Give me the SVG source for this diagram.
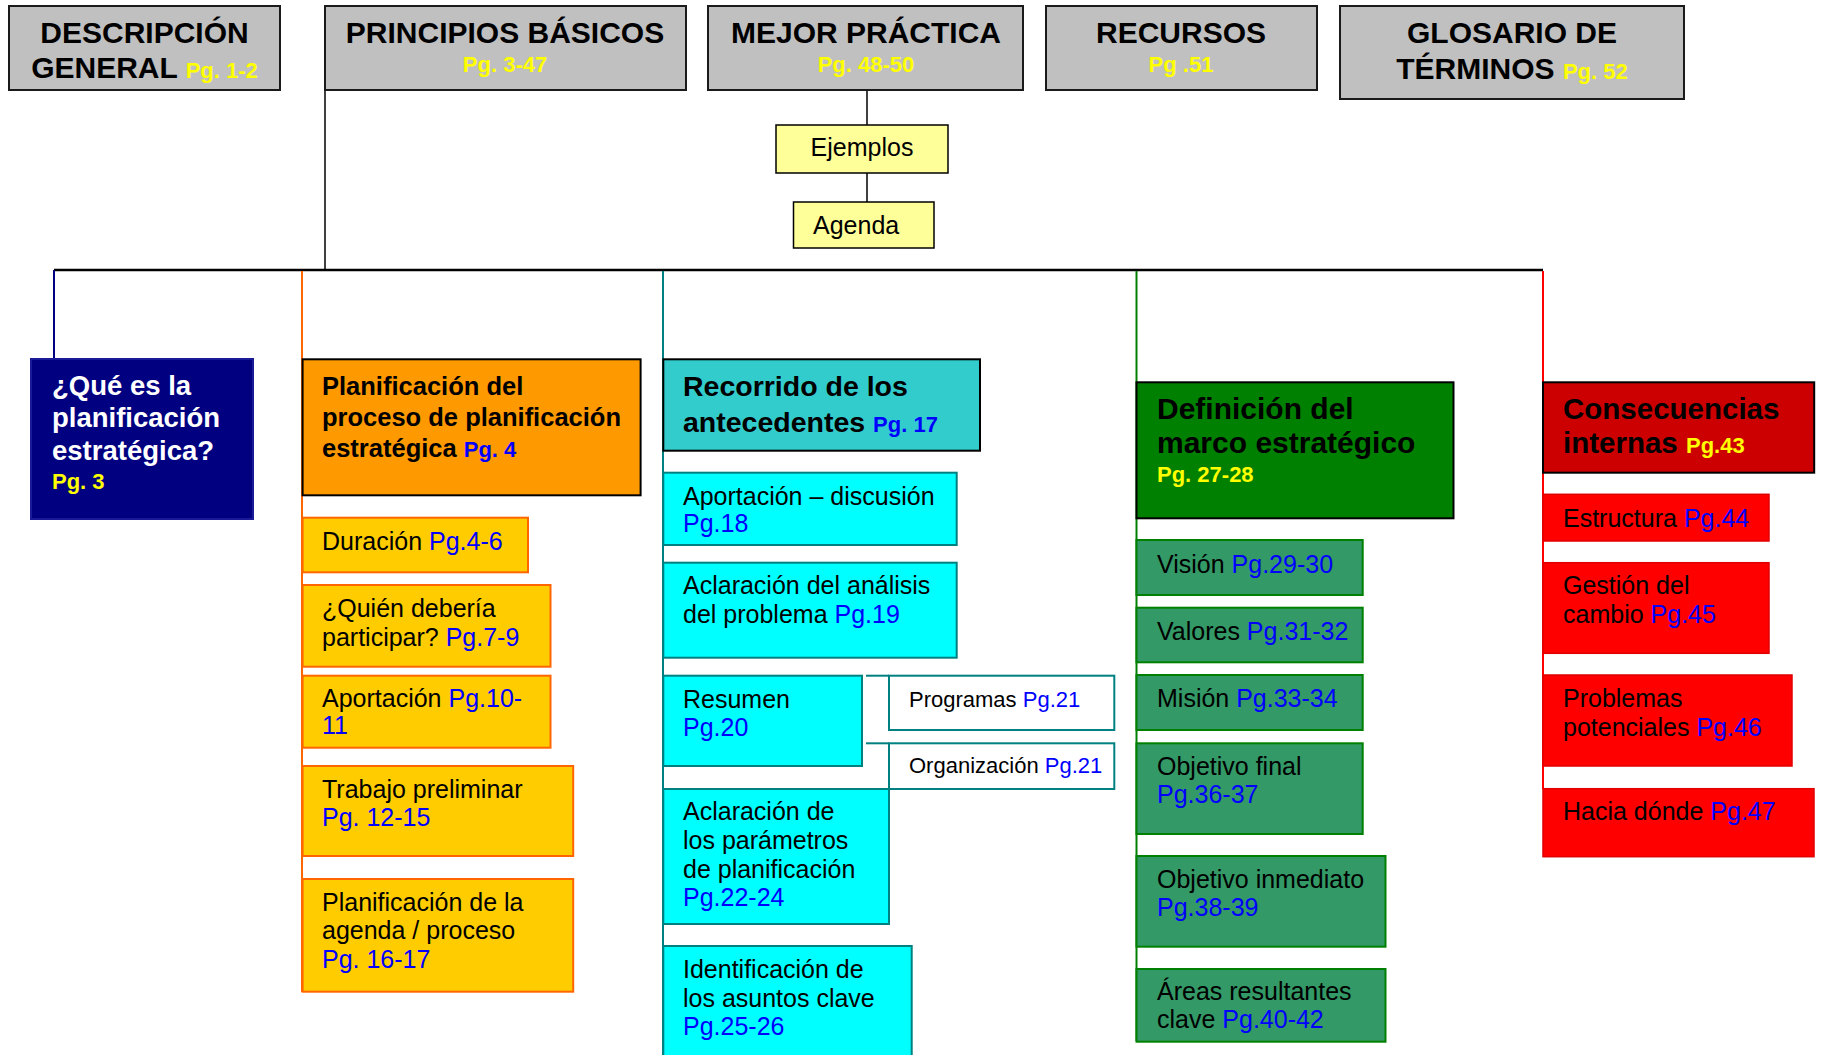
<svg xmlns="http://www.w3.org/2000/svg" width="1821" height="1055" viewBox="0 0 1821 1055">
<style>
text{font-family:"Liberation Sans",Arial,sans-serif}
.top{fill:#C0C0C0;stroke:#1a1a1a;stroke-width:2}
.th{font-size:30px;font-weight:bold;fill:#000}
.py{fill:#FFFF00;font-weight:bold;font-size:22px}
.pb{fill:#0000FF}
.pbb{fill:#0000FF;font-weight:bold;font-size:22px}
.yel{fill:#FFFF99;stroke:#000;stroke-width:1.5}
.b{font-size:25px;fill:#000}
.s{font-size:22px;fill:#000}
.hb{font-weight:bold;fill:#000}
.ob{fill:#FFCC00;stroke:#FF6600;stroke-width:2}
.cb{fill:#00FFFF;stroke:#008080;stroke-width:2}
.wb{fill:#FFFFFF;stroke:#008080;stroke-width:2}
.gb{fill:#339966;stroke:#008000;stroke-width:2}
.rb{fill:#FF0000;stroke:#E00000;stroke-width:1.5}
.hdrbox{stroke:#000;stroke-width:2}
</style>
<g id="connectors" fill="none">
<line x1="325" y1="90" x2="325" y2="270" stroke="#000" stroke-width="1.5"/>
<line x1="54" y1="270" x2="1543" y2="270" stroke="#000" stroke-width="2.5"/>
<line x1="54" y1="270" x2="54" y2="359" stroke="#000080" stroke-width="2"/>
<line x1="302" y1="271" x2="302" y2="992" stroke="#FF6600" stroke-width="2"/>
<line x1="663" y1="271" x2="663" y2="1055" stroke="#008080" stroke-width="2"/>
<line x1="1136.5" y1="271" x2="1136.5" y2="1041" stroke="#008000" stroke-width="2"/>
<line x1="1543" y1="271" x2="1543" y2="789" stroke="#FF0000" stroke-width="2"/>
<line x1="867" y1="90" x2="867" y2="125" stroke="#000" stroke-width="1.5"/>
<line x1="867" y1="173" x2="867" y2="202" stroke="#000" stroke-width="1.5"/>
<line x1="866" y1="675.7" x2="889" y2="675.7" stroke="#008080" stroke-width="2"/>
<line x1="866" y1="743.3" x2="889" y2="743.3" stroke="#008080" stroke-width="2"/>
</g>
<g id="n-descripcion">
<rect class="top" x="9" y="6" width="271" height="84"/>
<text class="th" x="144.5" y="43" text-anchor="middle">DESCRIPCIÓN</text>
<text class="th" x="144.5" y="78" text-anchor="middle">GENERAL <tspan class="py">Pg. 1-2</tspan></text>
</g>
<g id="n-principios">
<rect class="top" x="325" y="6" width="361" height="84"/>
<text class="th" x="505" y="43" text-anchor="middle">PRINCIPIOS BÁSICOS</text>
<text class="py" x="505" y="72" text-anchor="middle">Pg. 3-47</text>
</g>
<g id="n-mejor">
<rect class="top" x="708" y="6" width="315" height="84"/>
<text class="th" x="866" y="43" text-anchor="middle">MEJOR PRÁCTICA</text>
<text class="py" x="866" y="72" text-anchor="middle">Pg. 48-50</text>
</g>
<g id="n-recursos">
<rect class="top" x="1046" y="6" width="271" height="84"/>
<text class="th" x="1181" y="43" text-anchor="middle">RECURSOS</text>
<text class="py" x="1181" y="72" text-anchor="middle">Pg .51</text>
</g>
<g id="n-glosario">
<rect class="top" x="1340" y="6" width="344" height="93"/>
<text class="th" x="1512" y="43" text-anchor="middle">GLOSARIO DE</text>
<text class="th" x="1512" y="79" text-anchor="middle">TÉRMINOS <tspan class="py">Pg. 52</tspan></text>
</g>
<g id="n-ejemplos">
<rect class="yel" x="776" y="125" width="172" height="48"/>
<text class="b" x="862" y="156" text-anchor="middle">Ejemplos</text>
</g>
<g id="n-agenda">
<rect class="yel" x="793.5" y="202" width="140.5" height="46"/>
<text class="b" x="813" y="234">Agenda</text>
</g>
<g id="n-que-es">
<rect x="31" y="359" width="222" height="160" fill="#000080" stroke="#1a1a99" stroke-width="2"/>
<text x="52" font-size="27.5" font-weight="bold" fill="#FFFFFF"><tspan x="52" y="395">¿Qué es la</tspan><tspan x="52" y="427">planificación</tspan><tspan x="52" y="460">estratégica?</tspan><tspan x="52" y="489" class="py">Pg. 3</tspan></text>
</g>
<g id="n-planificacion-proceso">
<rect class="hdrbox" x="302.6" y="359.3" width="338" height="136" fill="#FF9900"/>
<text class="hb" font-size="25.5"><tspan x="322" y="395">Planificación del</tspan><tspan x="322" y="426">proceso de planificación</tspan><tspan x="322" y="457">estratégica <tspan class="pbb">Pg. 4</tspan></tspan></text>
</g>
<g id="n-duracion">
<rect class="ob" x="302.6" y="517.7" width="225.4" height="54.6"/>
<text class="b" x="322" y="550">Duración <tspan class="pb">Pg.4-6</tspan></text>
</g>
<g id="n-quien">
<rect class="ob" x="302.6" y="585" width="247.9" height="81.7"/>
<text class="b"><tspan x="322" y="617">¿Quién debería</tspan><tspan x="322" y="646">participar? <tspan class="pb">Pg.7-9</tspan></tspan></text>
</g>
<g id="n-aportacion">
<rect class="ob" x="302.6" y="675.7" width="247.9" height="72"/>
<text class="b"><tspan x="322" y="707">Aportación <tspan class="pb">Pg.10-</tspan></tspan><tspan x="322" y="734" class="pb">11</tspan></text>
</g>
<g id="n-trabajo">
<rect class="ob" x="302.6" y="766" width="270.6" height="90"/>
<text class="b"><tspan x="322" y="798">Trabajo preliminar</tspan><tspan x="322" y="826" class="pb">Pg. 12-15</tspan></text>
</g>
<g id="n-agenda-proceso">
<rect class="ob" x="302.6" y="879" width="270.6" height="112.7"/>
<text class="b"><tspan x="322" y="911">Planificación de la</tspan><tspan x="322" y="939">agenda / proceso</tspan><tspan x="322" y="968" class="pb">Pg. 16-17</tspan></text>
</g>
<g id="n-recorrido">
<rect class="hdrbox" x="663.3" y="359.3" width="316.7" height="91.4" fill="#33CCCC"/>
<text class="hb" font-size="28.5"><tspan x="683" y="396">Recorrido de los</tspan><tspan x="683" y="432">antecedentes <tspan class="pbb">Pg. 17</tspan></tspan></text>
</g>
<g id="n-aportacion-discusion">
<rect class="cb" x="663.3" y="472.7" width="293.4" height="72.3"/>
<text class="b"><tspan x="683" y="505">Aportación – discusión</tspan><tspan x="683" y="532" class="pb">Pg.18</tspan></text>
</g>
<g id="n-aclaracion-analisis">
<rect class="cb" x="663.3" y="562.7" width="293.4" height="95"/>
<text class="b"><tspan x="683" y="594">Aclaración del análisis</tspan><tspan x="683" y="623">del problema <tspan class="pb">Pg.19</tspan></tspan></text>
</g>
<g id="n-resumen">
<rect class="cb" x="663.3" y="675.7" width="198.7" height="90.3"/>
<text class="b"><tspan x="683" y="708">Resumen</tspan><tspan x="683" y="736" class="pb">Pg.20</tspan></text>
</g>
<g id="n-programas">
<rect class="wb" x="889" y="675.7" width="225.3" height="54.3"/>
<text class="s" x="909" y="707">Programas <tspan class="pb">Pg.21</tspan></text>
</g>
<g id="n-organizacion">
<rect class="wb" x="889" y="743.3" width="225.3" height="45.7"/>
<text class="s" x="909" y="773">Organización <tspan class="pb">Pg.21</tspan></text>
</g>
<g id="n-parametros">
<rect class="cb" x="663.3" y="789" width="225.7" height="135"/>
<text class="b"><tspan x="683" y="820">Aclaración de</tspan><tspan x="683" y="849">los parámetros</tspan><tspan x="683" y="878">de planificación</tspan><tspan x="683" y="906" class="pb">Pg.22-24</tspan></text>
</g>
<g id="n-identificacion">
<rect class="cb" x="663.3" y="946" width="248.4" height="120"/>
<text class="b"><tspan x="683" y="978">Identificación de</tspan><tspan x="683" y="1007">los asuntos clave</tspan><tspan x="683" y="1035" class="pb">Pg.25-26</tspan></text>
</g>
<g id="n-definicion">
<rect class="hdrbox" x="1136.5" y="382.3" width="317" height="136" fill="#008000"/>
<text class="hb" font-size="30"><tspan x="1157" y="419">Definición del</tspan><tspan x="1157" y="453">marco estratégico</tspan><tspan x="1157" y="482" class="py">Pg. 27-28</tspan></text>
</g>
<g id="n-vision">
<rect class="gb" x="1136.5" y="540" width="226.2" height="55"/>
<text class="b" x="1157" y="573">Visión <tspan class="pb">Pg.29-30</tspan></text>
</g>
<g id="n-valores">
<rect class="gb" x="1136.5" y="607.7" width="226.2" height="54.6"/>
<text class="b" x="1157" y="640">Valores <tspan class="pb">Pg.31-32</tspan></text>
</g>
<g id="n-mision">
<rect class="gb" x="1136.5" y="675" width="226.2" height="55"/>
<text class="b" x="1157" y="707">Misión <tspan class="pb">Pg.33-34</tspan></text>
</g>
<g id="n-objetivo-final">
<rect class="gb" x="1136.5" y="743.3" width="226.2" height="90.7"/>
<text class="b"><tspan x="1157" y="775">Objetivo final</tspan><tspan x="1157" y="803" class="pb">Pg.36-37</tspan></text>
</g>
<g id="n-objetivo-inmediato">
<rect class="gb" x="1136.5" y="856" width="249" height="90.7"/>
<text class="b"><tspan x="1157" y="888">Objetivo inmediato</tspan><tspan x="1157" y="916" class="pb">Pg.38-39</tspan></text>
</g>
<g id="n-areas">
<rect class="gb" x="1136.5" y="969" width="249" height="72.7"/>
<text class="b"><tspan x="1157" y="1000">Áreas resultantes</tspan><tspan x="1157" y="1028">clave <tspan class="pb">Pg.40-42</tspan></tspan></text>
</g>
<g id="n-consecuencias">
<rect class="hdrbox" x="1543" y="382.3" width="271.2" height="90.4" fill="#CC0000"/>
<text class="hb" font-size="29.5"><tspan x="1563" y="419">Consecuencias</tspan><tspan x="1563" y="453">internas <tspan class="py">Pg.43</tspan></tspan></text>
</g>
<g id="n-estructura">
<rect class="rb" x="1543" y="494.3" width="226" height="46.7"/>
<text class="b" x="1563" y="527">Estructura <tspan class="pb">Pg.44</tspan></text>
</g>
<g id="n-gestion">
<rect class="rb" x="1543" y="562.7" width="226" height="90.6"/>
<text class="b"><tspan x="1563" y="594">Gestión del</tspan><tspan x="1563" y="623">cambio <tspan class="pb">Pg.45</tspan></tspan></text>
</g>
<g id="n-problemas">
<rect class="rb" x="1543" y="675" width="249" height="91"/>
<text class="b"><tspan x="1563" y="707">Problemas</tspan><tspan x="1563" y="736">potenciales <tspan class="pb">Pg.46</tspan></tspan></text>
</g>
<g id="n-hacia">
<rect class="rb" x="1543" y="788.7" width="271" height="68"/>
<text class="b" x="1563" y="820">Hacia dónde <tspan class="pb">Pg.47</tspan></text>
</g>
</svg>
